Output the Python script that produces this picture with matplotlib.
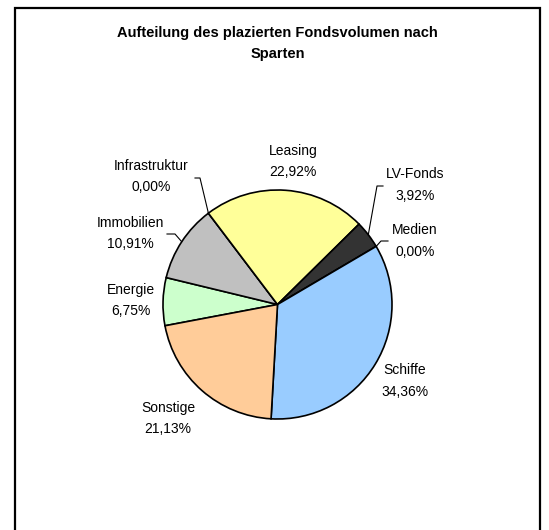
import numpy as np
import matplotlib
matplotlib.use("Agg")
import matplotlib.pyplot as plt
from matplotlib.patches import Rectangle

plt.rcParams["font.family"] = ["Liberation Sans", "DejaVu Sans"]

sparten = ["Energie", "Immobilien", "Infrastruktur", "Leasing",
           "LV-Fonds", "Medien", "Schiffe", "Sonstige"]
anteile = [6.75, 10.91, 0.00, 22.92, 3.92, 0.00, 34.36, 21.13]
farben = ["#CCFFCC", "#C0C0C0", "#FFFFFF", "#FFFF99",
          "#333333", "#FFFFFF", "#99CCFF", "#FFCC99"]

W, H = 549, 530
cx, cy, r = 277.5, H - 304.5, 114.5

# label centres (pixels from top) and optional leader line start/elbow
label_pos = {
    "Energie": (131, 300.5),
    "Immobilien": (130, 233.5),
    "Infrastruktur": (151, 176.5),
    "Leasing": (293, 161.5),
    "LV-Fonds": (415, 185),
    "Medien": (415, 241),
    "Schiffe": (405, 381),
    "Sonstige": (168, 418.5),
}
leaders = {
    "Infrastruktur": [(195, 178), (200, 178)],
    "Immobilien": [(167, 234), (175, 234)],
    "LV-Fonds": [(383, 186), (377, 186)],
    "Medien": [(388, 241), (381, 241)],
}

fig = plt.figure(figsize=(W / 100, H / 100), dpi=100)
ax = fig.add_axes([0, 0, 1, 1])

wedges, _ = ax.pie(anteile, colors=farben, startangle=190.7, counterclock=False,
                   center=(cx, cy), radius=r,
                   wedgeprops=dict(edgecolor="black", linewidth=1.2))
ax.set_xlim(0, W)
ax.set_ylim(0, H)
ax.set_aspect("auto")
ax.axis("off")

for name, val, w in zip(sparten, anteile, wedges):
    lx, ly = label_pos[name]
    ax.text(lx, H - ly, f"{name}\n{val:.2f}%".replace(".", ","),
            ha="center", va="center", fontsize=10, linespacing=1.65)
    if name in leaders:
        mid = np.deg2rad((w.theta1 + w.theta2) / 2)
        ex, ey = cx + r * np.cos(mid), cy + r * np.sin(mid)
        pts = [(x, H - y) for x, y in leaders[name]] + [(ex, ey)]
        ax.plot([p[0] for p in pts], [p[1] for p in pts], color="black", lw=0.8)

ax.text(W / 2 + 3, H - 43.5,
        "Aufteilung des plazierten Fondsvolumen nach\nSparten",
        ha="center", va="center", fontsize=10.5, fontweight="bold", linespacing=1.55)

fig.patches.append(Rectangle((15, -10), 525, H - 8 + 10, transform=None,
                             fill=False, edgecolor="black", linewidth=1.6))

fig.savefig("out.png", dpi=100)
